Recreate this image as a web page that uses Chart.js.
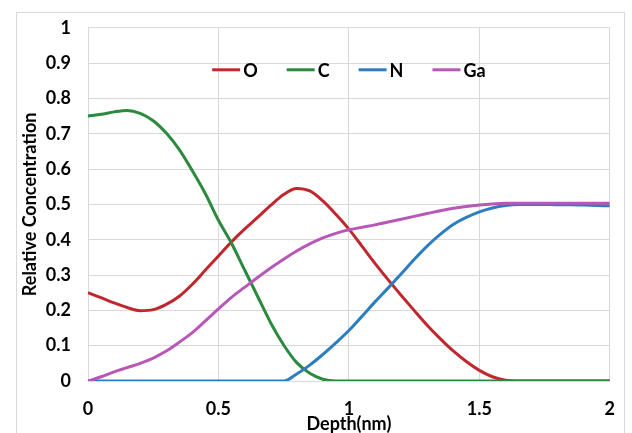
<!DOCTYPE html>
<html>
<head>
<meta charset="utf-8">
<script src="https://cdn.jsdelivr.net/npm/chart.js@4"></script>
<style>
  body { margin: 0; background: #fff; }
  #wrap { position: relative; width: 632px; height: 433px; }
  #frame { position: absolute; left: 16px; top: 12px; width: 609px; height: 440px; border: 1px solid #d9d9d9; box-sizing: border-box; }
  #myChart { position: absolute; left: 0; top: 0; }
</style>
</head>
<body>
<div id="wrap">
  <div id="frame"></div>
  <canvas id="myChart" width="632" height="433"></canvas>
</div>
<script>
// depth (nm) sample points
var depth = [0, 0.05, 0.1, 0.15, 0.2, 0.25, 0.3, 0.35, 0.4, 0.45, 0.5, 0.55, 0.6, 0.65, 0.7, 0.75, 0.8, 0.85, 0.9, 0.95,
  1, 1.05, 1.1, 1.15, 1.2, 1.25, 1.3, 1.35, 1.4, 1.45, 1.5, 1.55, 1.6, 1.65, 1.7, 1.75, 1.8, 1.85, 1.9, 1.95, 2];

var oxygen = [0.25, 0.236, 0.221, 0.208, 0.199, 0.202, 0.217, 0.24, 0.274, 0.314, 0.354, 0.394, 0.43, 0.463, 0.497, 0.528, 0.545, 0.538, 0.51, 0.472,
  0.43, 0.382, 0.333, 0.287, 0.243, 0.2, 0.158, 0.12, 0.085, 0.055, 0.03, 0.012, 0.002, 0, 0, 0, 0, 0, 0, 0, 0];
var carbon = [0.75, 0.755, 0.762, 0.766, 0.758, 0.737, 0.702, 0.655, 0.595, 0.53, 0.455, 0.39, 0.315, 0.24, 0.165, 0.102, 0.052, 0.022, 0.005, 0,
  0, 0, 0, 0, 0, 0, 0, 0, 0, 0, 0, 0, 0, 0, 0, 0, 0, 0, 0, 0, 0];
var nitrogen = [0, 0, 0, 0, 0, 0, 0, 0, 0, 0, 0, 0, 0, 0, 0, 0, 0.02, 0.045, 0.075, 0.108,
  0.143, 0.183, 0.224, 0.263, 0.303, 0.344, 0.382, 0.415, 0.443, 0.463, 0.479, 0.49, 0.497, 0.5, 0.5, 0.5, 0.499, 0.499, 0.498, 0.497, 0.496];
var gallium = [0, 0.012, 0.026, 0.038, 0.05, 0.065, 0.085, 0.11, 0.137, 0.17, 0.204, 0.237, 0.265, 0.293, 0.32, 0.345, 0.368, 0.388, 0.405, 0.418,
  0.428, 0.435, 0.442, 0.45, 0.458, 0.466, 0.474, 0.482, 0.489, 0.494, 0.498, 0.501, 0.503, 0.503, 0.503, 0.503, 0.503, 0.503, 0.503, 0.503, 0.503];

var seriesNames = ["O", "C", "N", "Ga"];
var seriesColors = ["#c0282d", "#2b8a3e", "#2e7dc0", "#b857b8"];
var seriesValues = [oxygen, carbon, nitrogen, gallium];

var xTicks = [0, 0.5, 1, 1.5, 2];

var fontName = "Lato, 'Liberation Sans', sans-serif";

function points(vals) {
  var out = [];
  for (var i = 0; i < depth.length; i++) out.push({x: depth[i], y: vals[i]});
  return out;
}

var datasets = [];
for (var i = 0; i < seriesNames.length; i++) {
  datasets.push({
    label: seriesNames[i],
    data: points(seriesValues[i]),
    borderColor: seriesColors[i],
    backgroundColor: seriesColors[i],
    borderWidth: 3,
    pointRadius: 0,
    order: seriesNames.length - i, // later series on top, as in the original
    cubicInterpolationMode: "monotone"
  });
}

// legend drawn inside the plot area, like the original
var innerLegend = {
  id: "innerLegend",
  afterDatasetsDraw: function(chart) {
    var ctx = chart.ctx, area = chart.chartArea;
    var lineLen = 28, gap = 3, spacing = 29;
    ctx.save();
    ctx.font = "bold 18px " + fontName;
    var widths = chart.data.datasets.map(function(d) { return lineLen + gap + ctx.measureText(d.label).width; });
    var total = widths.reduce(function(a, b) { return a + b; }, 0) + spacing * (widths.length - 1);
    var x = (area.left + area.right) / 2 - total / 2;
    var y = area.top + 42;
    chart.data.datasets.forEach(function(d, k) {
      ctx.strokeStyle = d.borderColor;
      ctx.lineWidth = 3;
      ctx.beginPath();
      ctx.moveTo(x, y);
      ctx.lineTo(x + lineLen, y);
      ctx.stroke();
      ctx.fillStyle = "#000";
      ctx.textBaseline = "middle";
      ctx.fillText(d.label, x + lineLen + gap, y + 1);
      x += widths[k] + spacing;
    });
    ctx.restore();
  }
};

function plain(v) { return String(Math.round(v * 10) / 10); }

new Chart("myChart", {
  type: "line",
  data: { datasets: datasets },
  plugins: [innerLegend],
  options: {
    responsive: false,
    animation: false,
    layout: { padding: { left: 0, right: 20, top: 25, bottom: 0 } },
    plugins: {
      legend: { display: false },
      tooltip: { enabled: false }
    },
    scales: {
      x: {
        type: "linear",
        min: 0,
        max: 2,
        afterBuildTicks: function(s) { s.ticks = xTicks.map(function(v) { return {value: v}; }); },
        afterFit: function(s) { s.height = 52; },
        grid: { color: "#d9d9d9", drawTicks: false },
        border: { color: "#d9d9d9" },
        ticks: { color: "#000", padding: 17, maxRotation: 0, callback: plain, font: { family: fontName, size: 18, weight: "bold" } },
        title: { display: true, text: "Depth(nm)", color: "#000", padding: { top: 0, bottom: -2 }, font: { family: fontName, size: 18, weight: "bold" } }
      },
      y: {
        min: 0,
        max: 1,
        afterFit: function(s) { s.width = 88; },
        grid: { color: "#d9d9d9", drawTicks: false },
        border: { color: "#d9d9d9" },
        ticks: { stepSize: 0.1, color: "#000", padding: 17, callback: plain, font: { family: fontName, size: 18, weight: "bold" } },
        title: { display: true, text: "Relative Concentration", color: "#000", padding: { top: 19, bottom: 0 }, font: { family: fontName, size: 18, weight: "bold" } }
      }
    }
  }
});
</script>
</body>
</html>
